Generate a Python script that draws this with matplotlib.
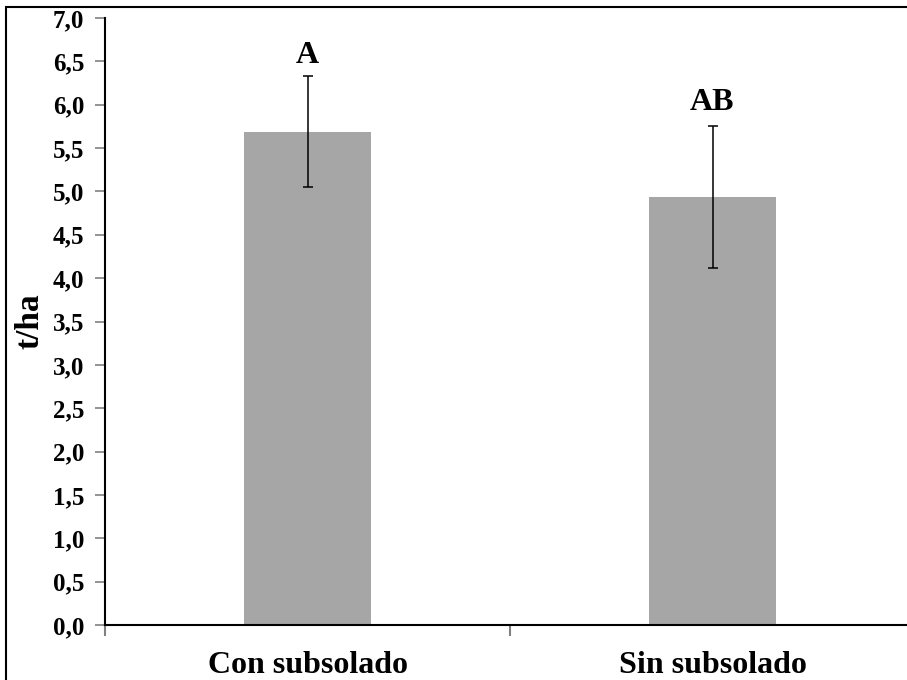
import matplotlib
matplotlib.use('Agg')
import matplotlib.pyplot as plt
from matplotlib.patches import Rectangle

plt.rcParams['font.family'] = ['Liberation Serif', 'DejaVu Serif']
plt.rcParams['font.weight'] = 'bold'

# data
categories = ['Con subsolado', 'Sin subsolado']
means = [5.69, 4.94]
errors = [0.64, 0.82]
letters = ['A', 'AB']
letter_y = [6.57, 6.02]
yticks = [0.0, 0.5, 1.0, 1.5, 2.0, 2.5, 3.0, 3.5, 4.0, 4.5, 5.0, 5.5, 6.0, 6.5, 7.0]

fig = plt.figure(figsize=(9.07, 6.8), dpi=100)
ax = fig.add_axes([105/907, 55/680, 810/907, 607/680])

x = list(range(len(categories)))
ax.bar(x, means, width=0.314, color='#a6a6a6', zorder=2)
ax.errorbar(x, means, yerr=errors, fmt='none', ecolor='black',
            elinewidth=1.1, capsize=3.5, capthick=1.1, zorder=3)

for xi, lab, ly in zip(x, letters, letter_y):
    ax.text(xi, ly, lab, ha='center', va='center', fontsize=23, fontweight='bold')

ax.set_xlim(-0.5, 1.5)
ax.set_ylim(0, 7)

# y axis
ax.set_yticks(yticks)
ax.set_yticklabels([f'{v:.1f}'.replace('.', ',') for v in yticks])
ax.tick_params(axis='y', direction='out', length=7, width=1.2, color='#808080',
               labelsize=18, pad=8)
for t in ax.get_yticklabels():
    t.set_fontweight('bold')
ax.set_ylabel('t/ha', fontsize=24, fontweight='bold')
ax.yaxis.set_label_coords(-0.074, 0.5)

# x axis: labels at bar centres, tick marks between categories
ax.set_xticks(x)
ax.set_xticklabels(categories, fontsize=23, fontweight='bold')
ax.tick_params(axis='x', which='major', length=0, pad=19)
ax.set_xticks([-0.5, 0.5, 1.5], minor=True)
ax.tick_params(axis='x', which='minor', direction='out', length=8, width=1.5,
               color='#808080')

for s in ['top', 'right']:
    ax.spines[s].set_visible(False)
for s in ['left', 'bottom']:
    ax.spines[s].set_linewidth(1.5)
    ax.spines[s].set_color('black')

# outer frame of the chart area
fig.patches.append(Rectangle((6/907, -0.1), 1.2, (673/680) + 0.1, transform=fig.transFigure,
                             fill=False, edgecolor='black', linewidth=1.5))

fig.savefig('out.png', dpi=100)
